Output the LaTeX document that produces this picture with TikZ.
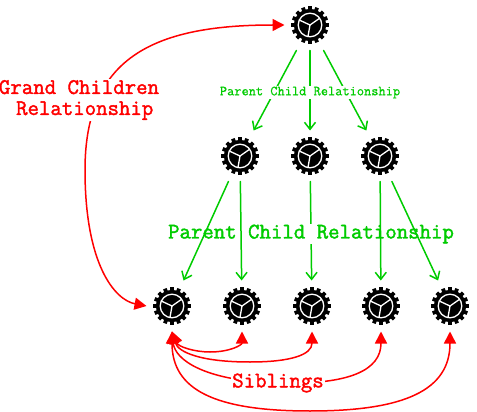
\documentclass[tikz,border=0pt]{standalone}
\usepackage{fontspec}
\newfontfamily\heavymono{Latin Modern Mono}[FakeBold=1.8]
\newfontfamily\lightmono{Latin Modern Mono}[FakeBold=0.6]
\usetikzlibrary{arrows.meta}
\definecolor{relgreen}{RGB}{0,204,0}
\tikzset{
gear/.style={rectangle,minimum size=38pt,inner sep=0pt,outer sep=6.5pt,path picture={
  \begin{scope}[shift={(path picture bounding box.center)}]
  \fill[black] (0,0) circle (16);
  \foreach \a in {0,22.5,...,337.5}
    \draw[black,line width=3.8pt,line cap=butt] (\a:14)--(\a:18.7);
  \draw[white,line width=1.3pt] (0,0) circle (11.8);
  \draw[white,line width=1.3pt] (100:11.8)--(0,0)--(205:11.8);
  \draw[white,line width=1.3pt] (0,0)--(325:11.8);
  \end{scope}}},
parentline/.style={color=relgreen,line width=1.5pt,-{Straight Barb[length=7pt,width=11pt]}},
siblingline/.style={color=red,line width=1.5pt,{Triangle[length=12pt,width=12pt]}-{Triangle[length=12pt,width=12pt]}},
biglabel/.style={font=\fontsize{22.2}{21}\heavymono},
smalllabel/.style={font=\fontsize{14}{14}\lightmono}
}
\begin{document}
\begin{tikzpicture}[line cap=round,line join=round,x=1pt,y=-1pt]
\useasboundingbox (0,0) rectangle (477,412);
\node[gear] (top) at (310,25) {};
\node[gear] (midA) at (240,156) {};
\node[gear] (midB) at (310,156) {};
\node[gear] (midC) at (380,156) {};
\node[gear] (botA) at (172,306) {};
\node[gear] (botB) at (242,306) {};
\node[gear] (botC) at (312,306) {};
\node[gear] (botD) at (381,306) {};
\node[gear] (botE) at (450,306) {};
% big label sits under the other lines
\draw[parentline] (midB)--(botC);
\node[biglabel,color=relgreen,fill=white,inner sep=1pt] (parentbig) at (311,234) {Parent Child Relationship};
\draw[parentline] (midA)--(botA);
\draw[parentline] (midA)--(botB);
\draw[parentline] (midC)--(botD);
\draw[parentline] (midC)--(botE);
\draw[parentline] (top)--(midA);
\draw[parentline] (top)--(midB);
\draw[parentline] (top)--(midC);
\node[smalllabel,color=relgreen,fill=white,inner sep=1pt] (parentsmall) at (310,92.5) {Parent Child Relationship};
\draw[siblingline] (top.west) .. controls (150,25) and (85,60) .. (85,170) .. controls (85,265) and (115,300) .. (botA.west);
\node[biglabel,color=red,fill=white,inner sep=1pt,align=center] (grandlabel) at (79,100) {Grand Children\\~Relationship};
\draw[siblingline] (botA.south) .. controls (178,347) and (195,352) .. (210,352) .. controls (230,352) and (242,345) .. (botB.south);
\draw[siblingline] (botA.south) .. controls (178,352) and (200,362) .. (250,362) .. controls (290,362) and (312,355) .. (botC.south);
\draw[siblingline] (botA.south) .. controls (175,360) and (205,381) .. (278,383) .. controls (350,385) and (381,370) .. (botD.south);
\draw[siblingline] (botA.south) .. controls (172,390) and (215,411) .. (310,411) .. controls (405,411) and (450,390) .. (botE.south);
\node[biglabel,color=red,fill=white,inner sep=1pt] (siblabel) at (278,383) {Siblings};
\end{tikzpicture}
\end{document}
